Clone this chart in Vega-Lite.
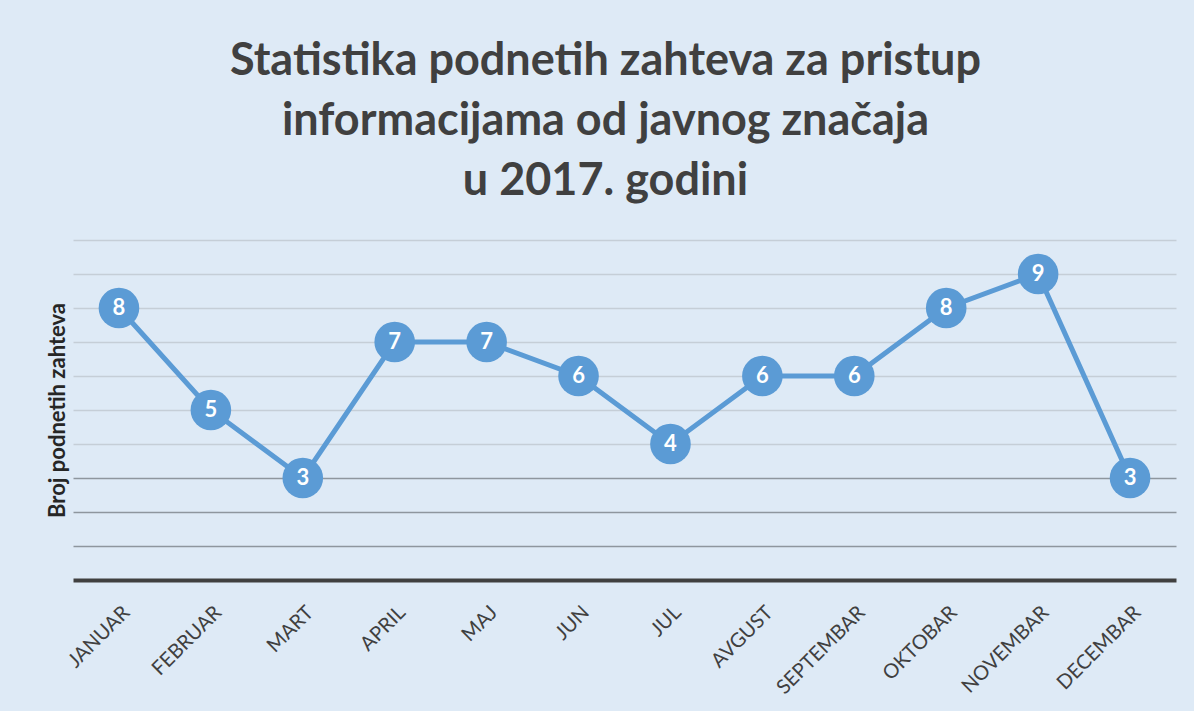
{
  "$schema": "https://vega.github.io/schema/vega-lite/v6.json",
  "autosize": "none",
  "width": 1103,
  "height": 340,
  "padding": {"left": 73, "top": 240, "right": 18, "bottom": 131},
  "background": "#deeaf6",
  "config": {"view": {"stroke": null}},
  "title": {
    "text": ["Statistika podnetih zahteva za pristup", "informacijama od javnog značaja", "u 2017. godini"],
    "font": "Lato",
    "fontSize": 45,
    "fontWeight": "bold",
    "color": "#404040",
    "anchor": "middle",
    "frame": "group",
    "dx": -19,
    "offset": 36,
    "lineHeight": 60
  },
  "data": {
    "values": [
      {"mesec": "JANUAR", "broj": 8},
      {"mesec": "FEBRUAR", "broj": 5},
      {"mesec": "MART", "broj": 3},
      {"mesec": "APRIL", "broj": 7},
      {"mesec": "MAJ", "broj": 7},
      {"mesec": "JUN", "broj": 6},
      {"mesec": "JUL", "broj": 4},
      {"mesec": "AVGUST", "broj": 6},
      {"mesec": "SEPTEMBAR", "broj": 6},
      {"mesec": "OKTOBAR", "broj": 8},
      {"mesec": "NOVEMBAR", "broj": 9},
      {"mesec": "DECEMBAR", "broj": 3}
    ]
  },
  "encoding": {
    "x": {
      "field": "mesec",
      "type": "ordinal",
      "sort": null,
      "scale": {"type": "point", "padding": 0.5},
      "axis": {
        "title": null,
        "labelAngle": -45,
        "labelFont": "Lato",
        "labelFontSize": 20,
        "labelColor": "#404040",
        "labelPadding": 22,
        "ticks": false,
        "grid": false,
        "domain": true,
        "domainColor": "#404040",
        "domainWidth": 4
      }
    },
    "y": {
      "field": "broj",
      "type": "quantitative",
      "scale": {"domain": [0, 10], "nice": false},
      "axis": {
        "title": "Broj podnetih zahteva",
        "titleFont": "Lato",
        "titleFontSize": 22,
        "titleFontWeight": "bold",
        "titleColor": "#262626",
        "titlePadding": 4,
        "labels": false,
        "ticks": false,
        "domain": false,
        "values": [1, 2, 3, 4, 5, 6, 7, 8, 9, 10],
        "grid": true,
        "gridWidth": 1.5,
        "gridColor": {"condition": {"test": "datum.value <= 3", "value": "#8e969e"}, "value": "#c5ced7"}
      }
    }
  },
  "layer": [
    {"mark": {"type": "line", "color": "#5b9bd5", "strokeWidth": 5}},
    {"mark": {"type": "point", "filled": true, "opacity": 1, "color": "#5b9bd5", "size": 1650}},
    {
      "mark": {"type": "text", "color": "#ffffff", "font": "Lato", "fontWeight": "bold", "fontSize": 22, "align": "center", "baseline": "middle"},
      "encoding": {"text": {"field": "broj", "type": "quantitative"}}
    }
  ]
}
